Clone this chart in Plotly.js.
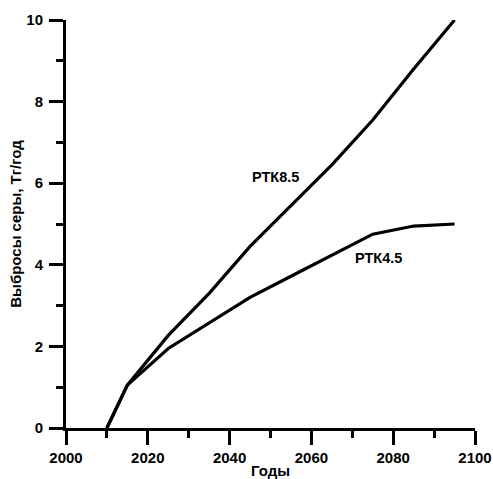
<!DOCTYPE html>
<html>
<head>
<meta charset="utf-8">
<script src="https://cdn.plot.ly/plotly-3.0.1.min.js"></script>
<style>html,body{margin:0;padding:0;background:#fff;}#chart{width:493px;height:479px;}</style>
</head>
<body>
<div id="chart"></div>
<script>
const years = [2010, 2015, 2025, 2035, 2045, 2055, 2065, 2075, 2085, 2095];
const rcp85 = [0, 1.05, 2.27, 3.3, 4.45, 5.45, 6.45, 7.55, 8.8, 10.0];
const rcp45 = [0, 1.05, 1.95, 2.57, 3.2, 3.72, 4.23, 4.75, 4.95, 5.0];
const labels = ["РТК8.5", "РТК4.5"];
const labelX = [2051.2, 2076.5];
const labelY = [6.14, 4.16];
const xTitle = "Годы";
const yTitle = "Выбросы серы, Тг/год";

const font = "Arial, 'Liberation Sans', sans-serif";
const traces = [
  {x: years, y: rcp85, mode: 'lines', line: {color: '#000', width: 3.2}, name: labels[0]},
  {x: years, y: rcp45, mode: 'lines', line: {color: '#000', width: 3.2}, name: labels[1]}
];
const axisCommon = {
  showgrid: false, zeroline: false, showline: true, linecolor: '#000', linewidth: 3,
  ticks: 'outside', ticklen: 14, tickwidth: 3, tickcolor: '#000',
  tickfont: {family: font, size: 15, color: '#000', weight: 'bold'}
};
const layout = {
  width: 493, height: 479,
  margin: {l: 66, r: 18, t: 20, b: 51},
  paper_bgcolor: '#fff', plot_bgcolor: '#fff',
  showlegend: false,
  font: {family: font, color: '#000'},
  xaxis: Object.assign({}, axisCommon, {
    range: [2000, 2100], dtick: 20, tick0: 2000,
    minor: {dtick: 10, ticks: 'outside', ticklen: 7, tickwidth: 3, tickcolor: '#000', showgrid: false},
    title: {text: xTitle, font: {family: font, size: 15, weight: 'bold', color: '#000'}, standoff: 5}
  }),
  yaxis: Object.assign({}, axisCommon, {
    range: [0, 10], dtick: 2, tick0: 0, ticklabelstandoff: 3,
    minor: {dtick: 1, ticks: 'outside', ticklen: 7, tickwidth: 3, tickcolor: '#000', showgrid: false},
    title: {text: yTitle, font: {family: font, size: 15, weight: 'bold', color: '#000'}, standoff: 2}
  }),
  annotations: labels.map((t, i) => ({
    x: labelX[i], y: labelY[i], xref: 'x', yref: 'y', text: t, showarrow: false,
    font: {family: font, size: 14.5, weight: 'bold', color: '#000'}
  }))
};
Plotly.newPlot('chart', traces, layout, {displayModeBar: false, staticPlot: true});
</script>
</body>
</html>
